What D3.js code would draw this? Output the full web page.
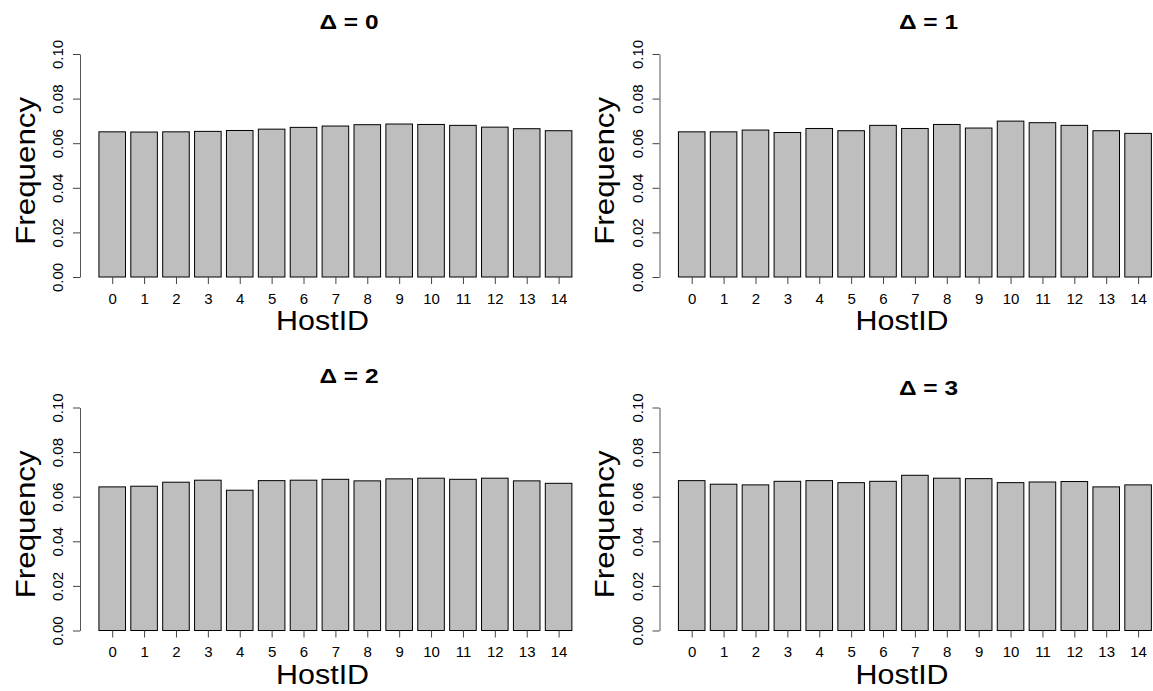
<!DOCTYPE html>
<html>
<head>
<meta charset="utf-8">
<script src="https://cdn.jsdelivr.net/npm/d3@7"></script>
<style>
  html, body { margin: 0; padding: 0; background: #fff; }
  svg { display: block; font-family: "Liberation Sans", Arial, Helvetica, sans-serif; }
</style>
</head>
<body>
<svg id="chart" width="1153" height="691"></svg>
<script>
const hostIds = [0,1,2,3,4,5,6,7,8,9,10,11,12,13,14];
const delta0 = [0.0651,0.0650,0.0651,0.0653,0.0657,0.0663,0.0671,0.0677,0.0683,0.0686,0.0684,0.0680,0.0672,0.0665,0.0656];
const delta1 = [0.0651,0.0651,0.0659,0.0648,0.0666,0.0656,0.0680,0.0666,0.0684,0.0668,0.0699,0.0692,0.0680,0.0656,0.0644];
const delta2 = [0.0644,0.0647,0.0665,0.0674,0.0629,0.0672,0.0674,0.0678,0.0671,0.0680,0.0683,0.0678,0.0683,0.0671,0.0660];
const delta3 = [0.0672,0.0656,0.0653,0.0669,0.0672,0.0663,0.0669,0.0696,0.0683,0.0681,0.0663,0.0666,0.0668,0.0644,0.0653];
const panelTitles = ["Δ = 0", "Δ = 1", "Δ = 2", "Δ = 3"];
const yTicks = [0.00, 0.02, 0.04, 0.06, 0.08, 0.10];
const xLabel = "HostID";
const yLabel = "Frequency";

const series = [delta0, delta1, delta2, delta3];
const layout = [
  {dx: 0,     dy: 0,     titleY: 29.3},
  {dx: 579.5, dy: 0,     titleY: 29.3},
  {dx: 0,     dy: 353.5, titleY: 383.3},
  {dx: 579.5, dy: 353.5, titleY: 395}
];

const svg = d3.select("#chart");

// barplot units (R style: width 1, space 0.2)
const nBars = hostIds.length;
const lo = 0.2, hi = 0.2 + 1.2 * (nBars - 1) + 1;
const pad = (hi - lo) * 0.04;
const axisX = 80, plotRight = 590.8;
const yTop = 54, yBottom = 277;

series.forEach((vals, p) => {
  const L = layout[p];
  const g = svg.append("g").attr("transform", `translate(${L.dx},${L.dy})`);
  const x = d3.scaleLinear().domain([lo - pad, hi + pad]).range([axisX, plotRight]);
  const y = d3.scaleLinear().domain([0, 0.1]).range([yBottom, yTop]);

  g.selectAll("rect.bar").data(vals).enter().append("rect")
    .attr("class", "bar")
    .attr("x", (d, i) => x(0.2 + 1.2 * i))
    .attr("width", (d, i) => x(1.2 + 1.2 * i) - x(0.2 + 1.2 * i))
    .attr("y", d => y(d))
    .attr("height", d => y(0) - y(d))
    .attr("fill", "#bebebe")
    .attr("stroke", "#000")
    .attr("stroke-width", 1);

  // y axis
  const yAxis = d3.axisLeft(y).tickValues(yTicks).tickFormat(d3.format(".2f")).tickSize(7).tickSizeOuter(0);
  const ya = g.append("g").attr("transform", `translate(${axisX},0)`).call(yAxis);
  ya.select(".domain").attr("stroke", "#555");
  ya.selectAll(".tick line").attr("stroke", "#444");
  ya.selectAll(".tick text")
    .attr("font-size", 15)
    .attr("fill", "#000")
    .attr("font-family", "Liberation Sans, Arial, sans-serif")
    .attr("text-anchor", "middle")
    .attr("x", null).attr("dy", null)
    .attr("transform", "translate(-16.7,0) rotate(-90)");

  // x axis ticks at bar centres
  const centers = hostIds.map((h, i) => 0.7 + 1.2 * i);
  const xa = d3.axisBottom(x).tickValues(centers)
    .tickFormat((d, i) => String(hostIds[i])).tickSize(7).tickSizeOuter(0);
  const xg = g.append("g").attr("transform", `translate(0,${yBottom})`).call(xa);
  xg.select(".domain").remove();
  xg.selectAll(".tick line").attr("stroke", "#444");
  xg.selectAll(".tick text").attr("font-size", 15).attr("fill", "#000")
    .attr("font-family", "Liberation Sans, Arial, sans-serif")
    .attr("y", 16).attr("dy", "0.71em");

  // axis titles
  g.append("text").text(xLabel)
    .attr("x", 322.6).attr("y", 330)
    .attr("text-anchor", "middle").attr("font-size", 27).attr("fill", "#000")
    .attr("textLength", 93).attr("lengthAdjust", "spacingAndGlyphs");
  g.append("text").text(yLabel)
    .attr("transform", `translate(34.5,170.8) rotate(-90)`)
    .attr("text-anchor", "middle").attr("font-size", 27).attr("fill", "#000")
    .attr("textLength", 148).attr("lengthAdjust", "spacingAndGlyphs");

  // title
  svg.append("text").text(panelTitles[p])
    .attr("x", L.dx + 349).attr("y", L.titleY)
    .attr("text-anchor", "middle").attr("font-weight", "bold")
    .attr("font-size", 20).attr("fill", "#000")
    .attr("textLength", 59).attr("lengthAdjust", "spacingAndGlyphs");
});
</script>
</body>
</html>
